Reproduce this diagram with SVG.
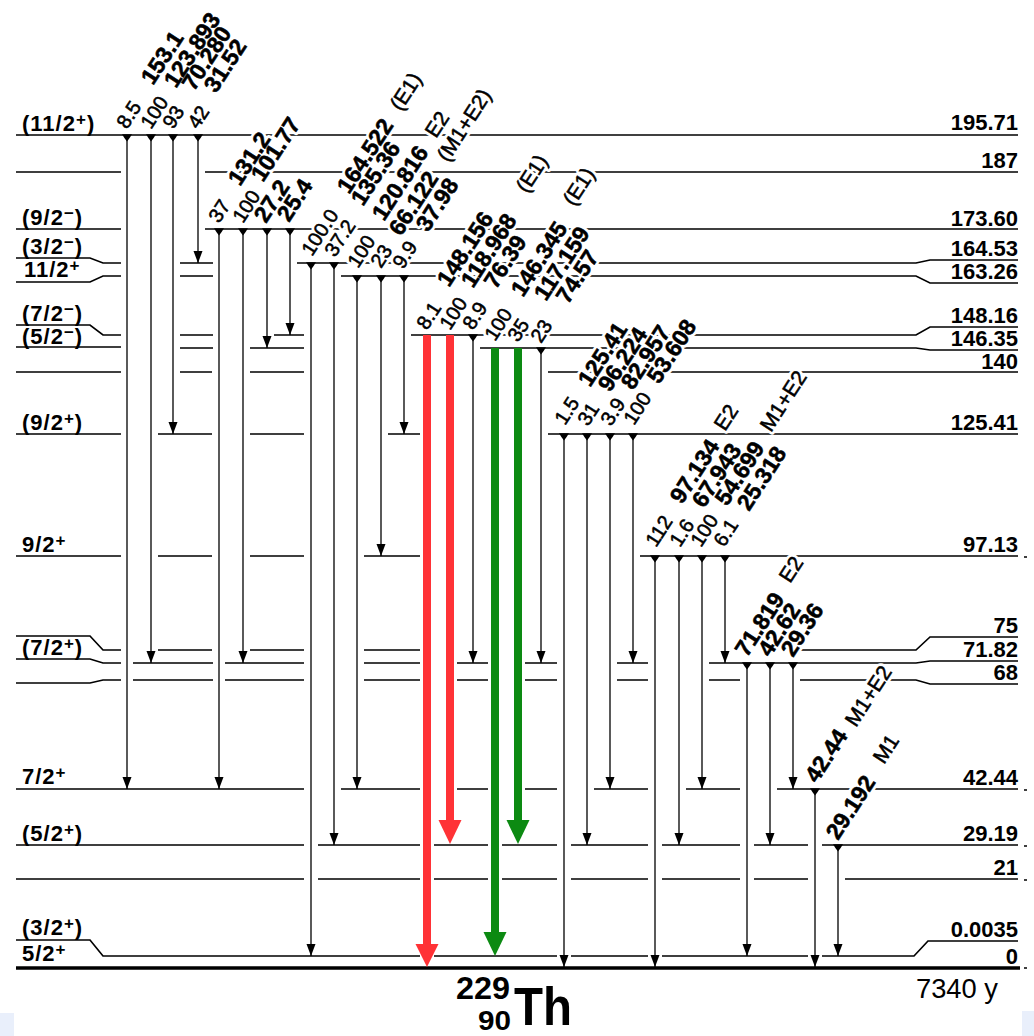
<svg xmlns="http://www.w3.org/2000/svg" width="1034" height="1036" viewBox="0 0 1034 1036">
<style>
.lv{fill:none;stroke:#000;stroke-width:1.7}
.gs{stroke-width:3.6}
.tk{fill:none;stroke:#000;stroke-width:1.6}
.tr{fill:none;stroke:#000;stroke-width:1.3;marker-end:url(#ah)}
.f{font-family:"Liberation Sans",Arial,Helvetica,sans-serif}
.i{font-size:20px}
.e{font-size:23px;font-weight:bold}
.m{font-size:21px}
.ll{font-size:22px;font-weight:bold;letter-spacing:1px}
.rl{font-size:22px;font-weight:bold;text-anchor:end}
.sup{font-size:17px}
.halo{fill:#fff;stroke:#fff;stroke-width:6;stroke-linejoin:round}
.ink{fill:#000;stroke:#000;stroke-width:0.55}
.red{fill:none;stroke:#ff3236;stroke-width:8}
.grn{fill:none;stroke:#0c8a12;stroke-width:8}
</style>
<defs>
<marker id="ah" markerUnits="userSpaceOnUse" viewBox="0 -5 12 10" refX="12" refY="0" markerWidth="12" markerHeight="10" orient="auto"><path d="M0,-4.5L12,0L0,4.5Z" fill="#000"/></marker>
<path id="sm" d="M-5,-0.8H5Q2.5,3.5 0,6.5Q-2.5,3.5 -5,-0.8Z" fill="#000"/>
<g id="dl">
<text class="f i" transform="translate(127,130) rotate(-57)">8.5</text>
<text class="f e" transform="translate(153,86) rotate(-57)">153.1</text>
<text class="f i" transform="translate(151,130) rotate(-57)">100</text>
<text class="f e" transform="translate(176,89) rotate(-57)">123.893</text>
<text class="f i" transform="translate(173,130) rotate(-57)">93</text>
<text class="f e" transform="translate(194,92) rotate(-57)">70.280</text>
<text class="f i" transform="translate(198,130) rotate(-57)">42</text>
<text class="f e" transform="translate(216,94) rotate(-57)">31.52</text>
<text class="f i" transform="translate(219,224) rotate(-57)">37</text>
<text class="f e" transform="translate(240,187) rotate(-57)">131.2</text>
<text class="f i" transform="translate(243,224) rotate(-57)">100</text>
<text class="f e" transform="translate(263,183) rotate(-57)">101.77</text>
<text class="f e" transform="translate(266,224) rotate(-57)">27.2</text>
<text class="f e" transform="translate(289,223) rotate(-57)">25.4</text>
<text class="f i" transform="translate(312,257) rotate(-57)">100.0</text>
<text class="f e" transform="translate(349,195) rotate(-57)">164.522</text>
<text class="f m" transform="translate(401,112) rotate(-57)">(E1)</text>
<text class="f i" transform="translate(335,258) rotate(-57)">37.2</text>
<text class="f e" transform="translate(363,207) rotate(-57)">135.36</text>
<text class="f i" transform="translate(358,269) rotate(-57)">100</text>
<text class="f e" transform="translate(384,222) rotate(-57)">120.816</text>
<text class="f m" transform="translate(436,139) rotate(-57)">E2</text>
<text class="f i" transform="translate(381,269) rotate(-57)">23</text>
<text class="f e" transform="translate(401,237) rotate(-57)">66.122</text>
<text class="f m" transform="translate(448,163) rotate(-57)">(M1+E2)</text>
<text class="f i" transform="translate(403,270) rotate(-57)">9.9</text>
<text class="f e" transform="translate(428,233) rotate(-57)">37.98</text>
<text class="f i" transform="translate(427,331) rotate(-57)">8.1</text>
<text class="f e" transform="translate(449,288) rotate(-57)">148.156</text>
<text class="f i" transform="translate(450,331) rotate(-57)">100</text>
<text class="f e" transform="translate(473,289) rotate(-57)">118.968</text>
<text class="f m" transform="translate(527,194) rotate(-57)">(E1)</text>
<text class="f i" transform="translate(473,331) rotate(-57)">8.9</text>
<text class="f e" transform="translate(496,290) rotate(-57)">76.39</text>
<text class="f i" transform="translate(495,342) rotate(-57)">100</text>
<text class="f e" transform="translate(523,298) rotate(-57)">146.345</text>
<text class="f m" transform="translate(574,207) rotate(-57)">(E1)</text>
<text class="f i" transform="translate(518,343) rotate(-57)">35</text>
<text class="f e" transform="translate(546,302) rotate(-57)">117.159</text>
<text class="f i" transform="translate(541,344) rotate(-57)">23</text>
<text class="f e" transform="translate(568,305) rotate(-57)">74.57</text>
<text class="f i" transform="translate(565,426) rotate(-57)">1.5</text>
<text class="f e" transform="translate(590,388) rotate(-57)">125.41</text>
<text class="f i" transform="translate(588,427) rotate(-57)">31</text>
<text class="f e" transform="translate(610,393) rotate(-57)">96.224</text>
<text class="f i" transform="translate(611,427) rotate(-57)">3.9</text>
<text class="f e" transform="translate(633,391) rotate(-57)">82.957</text>
<text class="f i" transform="translate(634,426) rotate(-57)">100</text>
<text class="f e" transform="translate(659,385) rotate(-57)">53.608</text>
<text class="f i" transform="translate(656,548) rotate(-57)">112</text>
<text class="f e" transform="translate(682,505) rotate(-57)">97.134</text>
<text class="f m" transform="translate(725,432) rotate(-57)">E2</text>
<text class="f i" transform="translate(680,548) rotate(-57)">1.6</text>
<text class="f e" transform="translate(704,509) rotate(-57)">67.943</text>
<text class="f i" transform="translate(701,548) rotate(-57)">100</text>
<text class="f e" transform="translate(727,507) rotate(-57)">54.699</text>
<text class="f m" transform="translate(771,433) rotate(-57)">M1+E2</text>
<text class="f i" transform="translate(724,548) rotate(-57)">6.1</text>
<text class="f e" transform="translate(749,512) rotate(-57)">25.318</text>
<text class="f e" transform="translate(747,658) rotate(-57)">71.819</text>
<text class="f m" transform="translate(790,584) rotate(-57)">E2</text>
<text class="f e" transform="translate(770,658) rotate(-57)">42.62</text>
<text class="f e" transform="translate(793,658) rotate(-57)">29.36</text>
<text class="f e" transform="translate(817,784) rotate(-57)">42.44</text>
<text class="f m" transform="translate(856,728) rotate(-57)">M1+E2</text>
<text class="f e" transform="translate(838,841) rotate(-57)">29.192</text>
<text class="f m" transform="translate(884,765) rotate(-57)">M1</text>
</g>
</defs>
<rect width="1034" height="1036" fill="#fff"/>
<rect x="0" y="1013" width="14" height="23" fill="#e9effb"/>
<rect x="1022" y="1011" width="12" height="25" fill="#e9effb"/>
<g id="levels" class="lv">
<path d="M16,135H1018"/>
<path d="M16,172H121M205,172H1018"/>
<path d="M16,229H121M205,229H1018"/>
<path d="M16,258H90L103,263H121M180,263H213M297,263H916L930,260H1018"/>
<path d="M16,282H90L103,276H121M180,276H213M341,276H916L930,283H1018"/>
<path d="M16,325H90L103,335H121M180,335H213M274,335H304M411,335H916L930,327H1018"/>
<path d="M16,347H121M180,348H213M250,348H304M480,348H916L930,350H1018"/>
<path d="M16,372H121M180,372H212M250,372H304M548,372H1018"/>
<path d="M16,434H121M158,434H212M250,434H304M388,434H420M548,434H1018"/>
<path d="M16,556H121M158,556H212M250,556H304M364,556H420M640,556H1018"/>
<path d="M16,636H90L103,650H121M158,650H212M250,650H304M364,650H420M798,650H916L930,637H1018"/>
<path d="M16,659H90L103,663H121M133,663H213M225,663H304M364,663H420M457,663H488M525,663H557M617,663H648M709,663H916L930,661H1018"/>
<path d="M16,683H90L103,680H121M133,680H213M225,680H304M364,680H420M457,680H488M525,680H557M617,680H648M709,680H740M800,680H916L930,684H1018"/>
<path d="M16,789H304M341,789H420M457,789H488M525,789H557M594,789H648M686,789H740M777,789H1018"/>
<path d="M16,845H304M318,845H420M434,845H488M502,845H557M571,845H648M662,845H740M754,845H808M822,845H1018"/>
<path d="M16,879H304M318,879H420M434,879H488M502,879H557M571,879H648M662,879H740M754,879H808M845,879H1018"/>
<path d="M16,940H90L103,956H420M434,956H557M571,956H648M662,956H808M822,956H914L928,941H1018"/>
<path class="gs" d="M16,968H1020"/>
</g>
<g id="edge-ticks" class="tk">
<path d="M1024,557H1027M1024,790H1027M1024,846H1027M1024,880H1027M1024,968H1027"/>
</g>
<use href="#dl" class="halo"/>
<g id="transitions" class="tr">
<path d="M127,135V789"/><path d="M151,135V663"/><path d="M173,135V434"/><path d="M198,135V263"/>
<path d="M219,229V789"/><path d="M243,229V663"/><path d="M267,229V348"/><path d="M290,229V335"/>
<path d="M311,263V956"/><path d="M334,263V845"/>
<path d="M357,276V789"/><path d="M381,276V556"/><path d="M404,276V434"/>
<path d="M473,335V663"/><path d="M541,348V663"/>
<path d="M564,434V967"/><path d="M587,434V845"/><path d="M610,434V789"/><path d="M633,434V663"/>
<path d="M655,556V967"/><path d="M679,556V845"/><path d="M702,556V789"/><path d="M725,556V663"/>
<path d="M747,663V956"/><path d="M770,663V845"/><path d="M793,663V789"/>
<path d="M815,789V967"/><path d="M838,845V956"/>
</g>
<g id="starts">
<use href="#sm" x="127" y="135"/><use href="#sm" x="151" y="135"/><use href="#sm" x="173" y="135"/><use href="#sm" x="198" y="135"/>
<use href="#sm" x="219" y="229"/><use href="#sm" x="243" y="229"/><use href="#sm" x="267" y="229"/><use href="#sm" x="290" y="229"/>
<use href="#sm" x="311" y="263"/><use href="#sm" x="334" y="263"/>
<use href="#sm" x="357" y="276"/><use href="#sm" x="381" y="276"/><use href="#sm" x="404" y="276"/>
<use href="#sm" x="473" y="335"/><use href="#sm" x="541" y="348"/>
<use href="#sm" x="564" y="434"/><use href="#sm" x="587" y="434"/><use href="#sm" x="610" y="434"/><use href="#sm" x="633" y="434"/>
<use href="#sm" x="655" y="556"/><use href="#sm" x="679" y="556"/><use href="#sm" x="702" y="556"/><use href="#sm" x="725" y="556"/>
<use href="#sm" x="747" y="663"/><use href="#sm" x="770" y="663"/><use href="#sm" x="793" y="663"/>
<use href="#sm" x="815" y="789"/><use href="#sm" x="838" y="845"/>
</g>
<g id="red-arrows">
<path class="red" d="M427,335V946"/><path d="M415.5,944H438.5L427,967Z" fill="#ff3236"/>
<path class="red" d="M450,335V822"/><path d="M438.5,820H461.5L450,844Z" fill="#ff3236"/>
</g>
<g id="green-arrows">
<path class="grn" d="M495,348V934"/><path d="M483.5,932H506.5L495,956Z" fill="#0c8a12"/>
<path class="grn" d="M518,348V822"/><path d="M506.5,820H529.5L518,844Z" fill="#0c8a12"/>
</g>
<use href="#dl" class="ink"/>
<g id="spin-labels" class="f ll">
<text x="22" y="131">(11/2<tspan class="sup" dy="-6">+</tspan><tspan dy="6">)</tspan></text>
<text x="22" y="225">(9/2<tspan class="sup" dy="-6">−</tspan><tspan dy="6">)</tspan></text>
<text x="22" y="254">(3/2<tspan class="sup" dy="-6">−</tspan><tspan dy="6">)</tspan></text>
<text x="24" y="277">11/2<tspan class="sup" dy="-6">+</tspan></text>
<text x="22" y="321">(7/2<tspan class="sup" dy="-6">−</tspan><tspan dy="6">)</tspan></text>
<text x="22" y="344">(5/2<tspan class="sup" dy="-6">−</tspan><tspan dy="6">)</tspan></text>
<text x="22" y="430">(9/2<tspan class="sup" dy="-6">+</tspan><tspan dy="6">)</tspan></text>
<text x="22" y="552">9/2<tspan class="sup" dy="-6">+</tspan></text>
<text x="22" y="655">(7/2<tspan class="sup" dy="-6">+</tspan><tspan dy="6">)</tspan></text>
<text x="22" y="784">7/2<tspan class="sup" dy="-6">+</tspan></text>
<text x="22" y="841">(5/2<tspan class="sup" dy="-6">+</tspan><tspan dy="6">)</tspan></text>
<text x="22" y="935">(3/2<tspan class="sup" dy="-6">+</tspan><tspan dy="6">)</tspan></text>
<text x="22" y="961">5/2<tspan class="sup" dy="-6">+</tspan></text>
</g>
<g id="energy-labels" class="f rl">
<text x="1018" y="130">195.71</text>
<text x="1018" y="168">187</text>
<text x="1018" y="226">173.60</text>
<text x="1018" y="256">164.53</text>
<text x="1018" y="279">163.26</text>
<text x="1018" y="323">148.16</text>
<text x="1018" y="346">146.35</text>
<text x="1018" y="369">140</text>
<text x="1018" y="430">125.41</text>
<text x="1018" y="552">97.13</text>
<text x="1018" y="633">75</text>
<text x="1018" y="657">71.82</text>
<text x="1018" y="680">68</text>
<text x="1018" y="785">42.44</text>
<text x="1018" y="841">29.19</text>
<text x="1018" y="875">21</text>
<text x="1018" y="937">0.0035</text>
<text x="1018" y="964">0</text>
</g>
<text id="nuclide" class="f" font-weight="bold"><tspan x="456" y="999" font-size="32" textLength="54" lengthAdjust="spacingAndGlyphs">229</tspan><tspan x="478" y="1030" font-size="27" textLength="33" lengthAdjust="spacingAndGlyphs">90</tspan><tspan x="514" y="1025" font-size="53" textLength="58" lengthAdjust="spacingAndGlyphs">Th</tspan></text>
<text class="f" x="916" y="998" font-size="27" textLength="82" lengthAdjust="spacingAndGlyphs">7340 y</text>
</svg>
